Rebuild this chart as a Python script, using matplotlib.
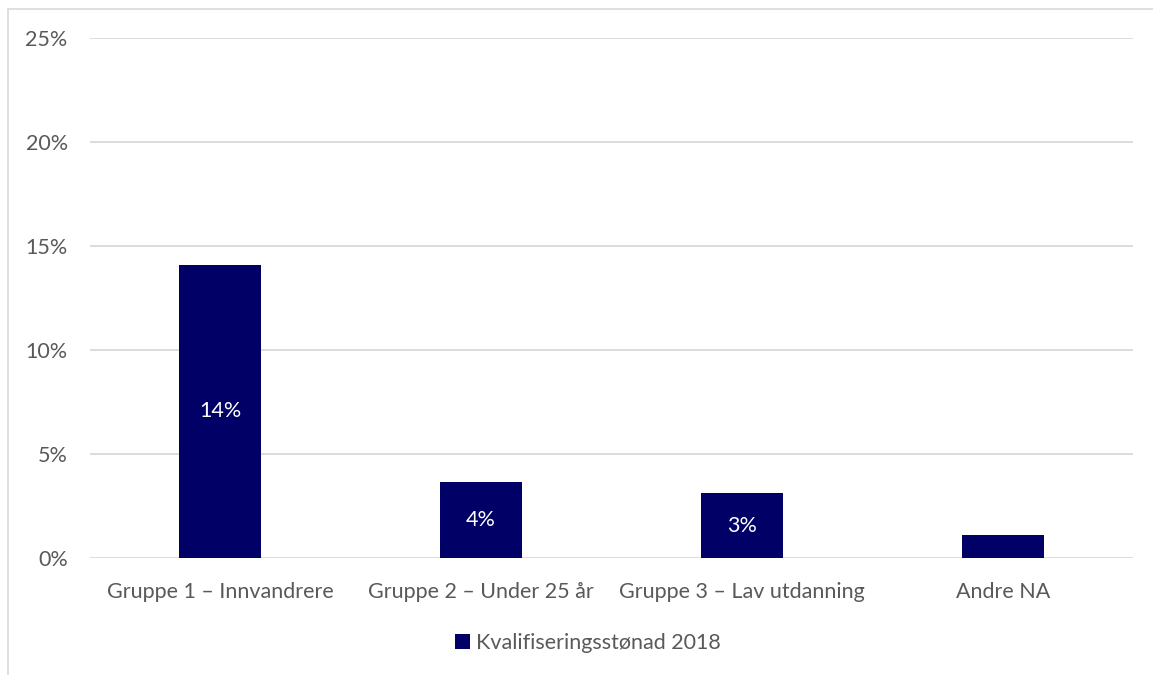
import matplotlib.pyplot as plt
from matplotlib.patches import Rectangle
from matplotlib.ticker import FuncFormatter
import numpy as np

plt.rcParams['font.family'] = ['Lato', 'DejaVu Sans']

categories = ['Gruppe 1 – Innvandrere', 'Gruppe 2 – Under 25 år', 'Gruppe 3 – Lav utdanning', 'Andre NA']
values = [14.1, 3.65, 3.12, 1.1]
labels = ['14%', '4%', '3%', '']
series_name = 'Kvalifiseringsstønad 2018'

navy = '#000066'
grey_text = '#595959'
fs = 15.5

fig = plt.figure(figsize=(11.53, 6.75), dpi=100)
ax = fig.add_axes([0.078, 0.1733, 0.9047, 0.7704])

x = np.arange(len(categories))
bars = ax.bar(x, values, width=0.315, color=navy, label=series_name, zorder=3)

for b, lab in zip(bars, labels):
    if lab:
        ax.text(b.get_x() + b.get_width() / 2, b.get_height() / 2, lab,
                ha='center', va='center', color='white', fontsize=fs, zorder=4)

ax.set_xlim(-0.5, len(categories) - 0.5)
ax.set_ylim(0, 25)
ax.set_yticks(range(0, 26, 5))
ax.yaxis.set_major_formatter(FuncFormatter(lambda v, p: f'{int(v)}%'))
ax.set_xticks(x)
ax.set_xticklabels(categories)
ax.tick_params(axis='both', length=0, labelsize=fs, labelcolor=grey_text)
ax.tick_params(axis='y', pad=16)
ax.tick_params(axis='x', pad=17)
ax.grid(axis='y', color='#d9d9d9', linewidth=1.3, zorder=0)
for s in ax.spines.values():
    s.set_visible(False)

leg = fig.legend(loc='center', bbox_to_anchor=(0.51, 0.047), frameon=False,
                 fontsize=fs, handlelength=0.7, handleheight=0.7, handletextpad=0.25)
for t in leg.get_texts():
    t.set_color(grey_text)

# outer chart frame
fig.patches.append(Rectangle((0.007, -0.05), 1.1, 1.037, transform=fig.transFigure,
                             fill=False, edgecolor='#d9d9d9', linewidth=1.2))

fig.savefig('out.png', dpi=100)
